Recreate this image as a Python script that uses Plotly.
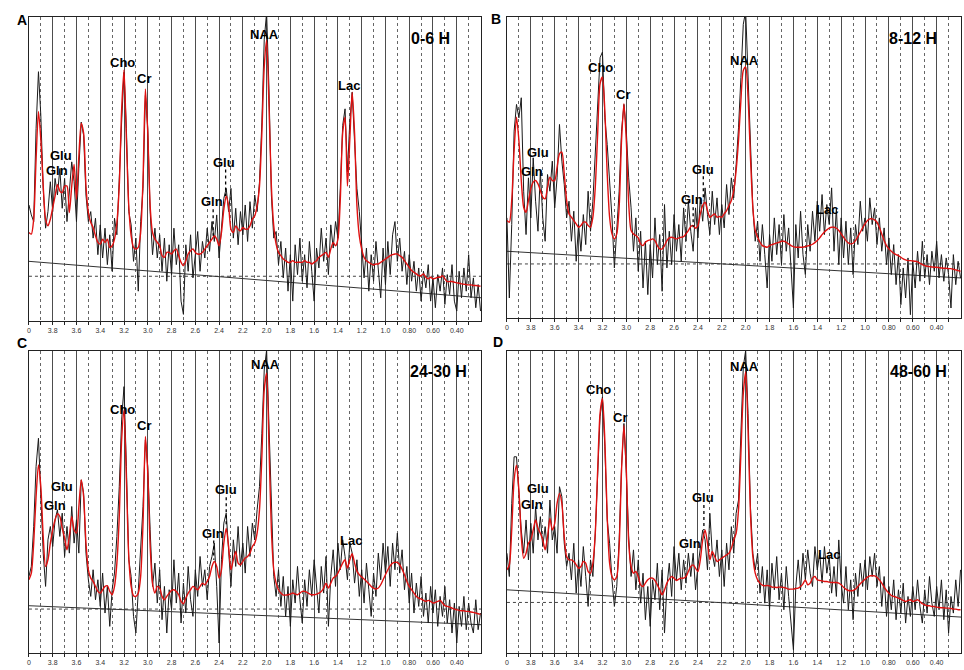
import numpy as np
import plotly.graph_objects as go

# chemical shift grid (ppm), 4.00 -> 0.20 in 0.02 steps
ppm = np.round(np.arange(4.0, 0.19, -0.02), 2)

# ---- fitted (red) and measured (black) spectra, arbitrary units ----
red_a = [267, 262, 307, 487, 632, 547, 407, 307, 287, 307,
         342, 377, 412, 392, 387, 407, 407, 327, 407, 472,
         367, 497, 597, 567, 407, 327, 297, 282, 257, 237,
         232, 247, 237, 247, 222, 227, 247, 297, 407, 637,
         757, 547, 347, 257, 222, 217, 222, 267, 427, 700,
         567, 347, 267, 247, 237, 227, 197, 192, 207, 207,
         202, 212, 217, 197, 177, 167, 182, 202, 212, 217,
         207, 202, 202, 207, 217, 227, 237, 247, 257, 247,
         227, 267, 337, 377, 347, 277, 267, 287, 277, 272,
         282, 277, 277, 287, 307, 317, 347, 407, 567, 767,
         847, 647, 407, 287, 232, 207, 197, 187, 182, 177,
         177, 182, 177, 177, 177, 177, 182, 177, 177, 172,
         177, 182, 192, 197, 202, 207, 192, 217, 237, 227,
         247, 367, 567, 615, 407, 547, 690, 567, 347, 257,
         217, 192, 182, 177, 172, 169, 172, 172, 177, 182,
         187, 192, 197, 200, 202, 202, 197, 192, 182, 172,
         162, 152, 147, 142, 137, 137, 142, 132, 127, 132,
         127, 129, 132, 132, 137, 127, 119, 119, 119, 117,
         115, 114, 112, 111, 110, 109, 109, 107, 107, 106,
         105]
black_a = [350, 320, 300, 580, 752, 620, 400, 280, 330, 420,
           330, 430, 380, 460, 340, 430, 300, 380, 480, 420,
           300, 460, 600, 560, 380, 300, 330, 250, 310, 200,
           290, 190, 280, 170, 260, 150, 310, 260, 450, 600,
           750, 580, 330, 290, 180, 250, 90, 300, 400, 680,
           580, 330, 200, 280, 190, 260, 150, 250, 120, 230,
           140, 280, 170, 230, 60, 20, 230, 150, 260, 130,
           200, 270, 150, 240, 190, 280, 210, 300, 240, 320,
           190, 290, 370, 400, 330, 400, 250, 340, 230, 330,
           260, 350, 240, 360, 280, 380, 330, 420, 600, 850,
           930, 700, 380, 250, 270, 170, 240, 130, 220, 90,
           200, 60, 230, 140, 250, 120, 200, 100, 240, 150,
           60, 220, 160, 280, 180, 250, 140, 290, 220, 300,
           250, 400, 590, 640, 450, 600, 690, 540, 400, 330,
           230, 130, 220, 90, 200, 120, 240, 150, 70, 220,
           110, 240, 140, 260, 300, 180, 250, 150, 210, 110,
           200, 120, 180, 90, 160, 60, 150, 100, 170, 60,
           130, 40, 140, 90, 160, 50, 140, 80, 170, 60,
           30, 150, 70, 160, 90, 200, 70, 130, 40, 110,
           30]

red_b = [292, 287, 352, 502, 602, 532, 412, 332, 317, 352,
         387, 407, 412, 402, 382, 362, 357, 392, 422, 412,
         412, 452, 492, 497, 432, 352, 312, 302, 292, 282,
         272, 277, 287, 287, 277, 272, 302, 392, 552, 702,
         722, 622, 432, 302, 252, 237, 252, 332, 532, 642,
         532, 342, 262, 252, 247, 240, 222, 217, 227, 232,
         234, 237, 232, 217, 207, 207, 217, 232, 240, 242,
         240, 237, 240, 242, 244, 252, 262, 274, 277, 269,
         277, 312, 337, 347, 322, 302, 307, 312, 302, 304,
         302, 312, 322, 337, 352, 382, 442, 532, 652, 742,
         752, 662, 482, 332, 262, 242, 227, 217, 214, 212,
         217, 220, 222, 225, 227, 230, 230, 227, 222, 217,
         214, 212, 212, 212, 212, 214, 216, 218, 221, 226,
         232, 240, 250, 258, 264, 269, 272, 272, 269, 262,
         252, 242, 232, 225, 222, 224, 232, 244, 257, 270,
         282, 292, 297, 297, 294, 287, 272, 252, 232, 217,
         207, 200, 194, 190, 187, 182, 177, 174, 172, 172,
         171, 170, 168, 164, 160, 157, 155, 154, 153, 152,
         152, 151, 150, 149, 149, 148, 148, 146, 144, 142,
         140]
black_b = [300, 60, 280, 560, 640, 600, 660, 380, 250, 420,
           300, 480, 350, 260, 440, 300, 230, 430, 380, 470,
           330, 420, 580, 470, 400, 300, 350, 230, 320, 170,
           280, 200, 310, 220, 380, 260, 350, 480, 620, 780,
           797, 600, 520, 420, 300, 150, 260, 380, 560, 640,
           560, 420, 330, 200, 300, 140, 260, 90, 230, 70,
           220, 120, 300, 160, 250, 80, 340, 150, 260, 160,
           310, 200, 280, 170, 330, 230, 350, 260, 200, 330,
           240, 360, 290, 390, 310, 250, 380, 280, 360, 250,
           340, 270, 400, 310, 420, 360, 460, 570, 720, 880,
           920, 720, 500, 330, 230, 290, 170, 280, 190, 90,
           250, 170, 300, 190, 280, 160, 310, 200, 270, 130,
           30, 280, 180, 320, 190, 130, 280, 200, 320, 230,
           350, 260, 370, 250, 340, 280, 390, 200, 330, 160,
           300, 180, 290, 160, 270, 130, 280, 220, 350, 260,
           300, 230, 360, 280, 330, 220, 300, 200, 270, 160,
           240, 130, 220, 100, 190, 40, 150, 60, 180, 10,
           170, 90, 200, 110, 230, 120, 190, 100, 200, 140,
           230, 120, 190, 110, 180, 130, 30, 190, 100, 170,
           120]

red_c = [220, 240, 330, 470, 565, 500, 350, 260, 280, 330,
         370, 400, 418, 410, 375, 345, 310, 350, 410, 370,
         360, 440, 520, 470, 330, 250, 225, 215, 200, 185,
         180, 190, 200, 202, 185, 175, 200, 270, 410, 640,
         730, 520, 290, 200, 172, 170, 180, 230, 390, 650,
         540, 320, 210, 180, 200, 195, 170, 160, 170, 180,
         188, 190, 185, 175, 155, 148, 165, 180, 190, 200,
         195, 190, 200, 210, 205, 215, 230, 260, 275, 260,
         225, 250, 330, 375, 320, 250, 280, 305, 270, 265,
         275, 285, 290, 300, 320, 330, 360, 430, 590, 790,
         840, 620, 370, 250, 210, 190, 180, 174, 174, 175,
         177, 180, 177, 175, 180, 185, 185, 182, 178, 175,
         175, 177, 180, 185, 195, 210, 195, 210, 225, 230,
         240, 255, 270, 280, 255, 280, 298, 270, 245, 235,
         228, 222, 215, 208, 200, 195, 192, 195, 205, 220,
         235, 250, 262, 270, 272, 272, 265, 252, 235, 215,
         200, 190, 180, 170, 165, 162, 158, 155, 158, 155,
         150, 152, 155, 158, 150, 142, 140, 138, 135, 132,
         130, 128, 127, 127, 125, 125, 123, 122, 120, 118,
         116]
black_c = [230, 260, 380, 560, 645, 480, 300, 200, 340, 380,
           320, 400, 430, 350, 420, 290, 380, 300, 440, 330,
           400, 300, 520, 480, 300, 220, 170, 250, 160, 220,
           140, 240, 120, 200, 80, 190, 240, 350, 500, 700,
           800, 560, 280, 230, 110, 60, 200, 300, 440, 640,
           560, 370, 200, 270, 150, 250, 100, 200, 60, 190,
           130, 280, 150, 240, 90, 210, 120, 260, 160, 110,
           250, 170, 290, 200, 250, 160, 260, 290, 330, 200,
           30, 280, 390, 420, 300, 200, 340, 260, 380, 260,
           330, 240, 380, 290, 390, 340, 430, 500, 660, 850,
           910, 680, 420, 230, 170, 250, 140, 230, 110, 200,
           80, 220, 150, 260, 160, 90, 220, 140, 250, 170,
           280, 190, 120, 260, 180, 290, 80, 230, 310, 200,
           330, 250, 340, 290, 220, 330, 300, 210, 280, 170,
           250, 150, 270, 190, 110, 240, 170, 300, 220, 330,
           240, 320, 200, 330, 250, 360, 240, 310, 190, 260,
           150, 240, 120, 210, 140, 230, 110, 180, 90, 200,
           120, 190, 80, 170, 110, 200, 90, 160, 60, 150,
           30, 140, 80, 170, 70, 150, 90, 60, 160, 70,
           120]

red_d = [250, 265, 370, 520, 565, 490, 350, 285, 300, 330,
         340, 370, 400, 375, 360, 340, 310, 350, 405, 370,
         390, 450, 480, 450, 350, 290, 280, 280, 275, 265,
         255, 260, 275, 270, 245, 240, 270, 360, 550, 720,
         765, 640, 410, 270, 230, 220, 230, 320, 550, 685,
         550, 330, 260, 240, 245, 230, 205, 200, 210, 220,
         225, 225, 218, 205, 190, 175, 190, 210, 222, 230,
         225, 218, 222, 225, 225, 230, 245, 260, 265, 255,
         245, 280, 340, 370, 330, 280, 305, 290, 275, 280,
         285, 290, 295, 300, 315, 340, 360, 430, 600, 780,
         845, 670, 420, 290, 240, 220, 210, 204, 202, 203,
         202, 198, 198, 197, 198, 198, 197, 195, 192, 192,
         192, 194, 195, 200, 208, 220, 205, 210, 225, 230,
         220, 218, 217, 215, 215, 213, 212, 212, 212, 210,
         205, 198, 192, 188, 187, 188, 192, 200, 208, 215,
         222, 228, 232, 232, 232, 228, 220, 210, 198, 188,
         180, 173, 170, 168, 165, 162, 158, 155, 158, 160,
         155, 157, 160, 155, 148, 145, 142, 142, 140, 140,
         138, 137, 136, 136, 135, 135, 134, 132, 132, 130,
         130]
black_d = [300, 230, 450, 590, 590, 470, 370, 300, 400, 280,
           390, 300, 440, 340, 410, 320, 380, 300, 460, 340,
           380, 300, 500, 470, 330, 260, 300, 220, 330, 180,
           280, 200, 320, 230, 140, 280, 230, 360, 530, 710,
           770, 620, 400, 330, 220, 140, 200, 340, 560, 690,
           540, 350, 230, 310, 190, 280, 150, 240, 100, 200,
           80, 220, 160, 270, 130, 250, 60, 200, 270, 170,
           320, 220, 300, 190, 280, 210, 300, 230, 300, 190,
           260, 320, 370, 340, 250, 420, 300, 260, 340, 230,
           310, 200, 330, 250, 380, 300, 420, 460, 650, 860,
           910, 720, 440, 300, 250, 300, 180, 260, 150, 250,
           130, 270, 190, 290, 160, 240, 130, 260, 170, 100,
           10, 200, 280, 190, 300, 220, 310, 240, 200, 320,
           250, 300, 210, 320, 240, 290, 180, 260, 170, 340,
           210, 150, 260, 130, 220, 100, 240, 170, 270, 200,
           280, 190, 290, 230, 300, 200, 260, 140, 230, 110,
           200, 130, 220, 100, 190, 120, 210, 90, 170, 110,
           200, 130, 220, 140, 90, 190, 120, 230, 150, 110,
           200, 130, 220, 100, 190, 60, 170, 120, 220, 140,
           250]

# baseline ends (at 4.0 and right edge) and dotted reference level
baseline_a = [180, 70]
baseline_b = [200, 120]
baseline_c = [142, 85]
baseline_d = [190, 108]
level_a, level_b, level_c, level_d = 135, 162, 132, 152
ymax_a, ymax_b, ymax_c, ymax_d = 917, 902, 907, 908

# metabolite labels: (text, ppm, height)
labels_a = [("NAA", 2.02, 864), ("Cho", 3.21, 780), ("Cr", 3.03, 730), ("Lac", 1.31, 709),
            ("Glu", 3.73, 500), ("Gln", 3.76, 455), ("Glu", 2.36, 477), ("Gln", 2.46, 359)]
labels_b = [("NAA", 2.01, 772), ("Cho", 3.22, 752), ("Cr", 3.03, 669), ("Lac", 1.32, 325),
            ("Glu", 3.74, 496), ("Gln", 3.79, 440), ("Glu", 2.36, 445), ("Gln", 2.45, 354)]
labels_c = [("NAA", 2.01, 865), ("Cho", 3.21, 732), ("Cr", 3.03, 684), ("Lac", 1.29, 337),
            ("Glu", 3.72, 500), ("Gln", 3.78, 443), ("Glu", 2.34, 490), ("Gln", 2.45, 360)]
labels_d = [("NAA", 2.01, 860), ("Cho", 3.23, 793), ("Cr", 3.05, 708), ("Lac", 1.30, 297),
            ("Glu", 3.74, 495), ("Gln", 3.79, 448), ("Glu", 2.36, 468), ("Gln", 2.47, 328)]
# dotted leader lines: (ppm, top, bottom)
leaders_a = [(2.345, 457, 377), (2.45, 337, 257)]
leaders_b = [(2.355, 425, 352), (2.44, 332, 272)]
leaders_c = [(2.34, 468, 380), (2.445, 338, 280)]
leaders_d = [(2.35, 445, 370)]

times = ["0-6 H", "8-12 H", "24-30 H", "48-60 H"]
time_pos = [(0.62, 852), (0.60, 839), (0.55, 845), (0.55, 845)]

tick_vals = [4.0, 3.8, 3.6, 3.4, 3.2, 3.0, 2.8, 2.6, 2.4, 2.2, 2.0,
             1.8, 1.6, 1.4, 1.2, 1.0, 0.8, 0.6, 0.4]
tick_text = ["0", "3.8", "3.6", "3.4", "3.2", "3.0", "2.8", "2.6", "2.4", "2.2", "2.0",
             "1.8", "1.6", "1.4", "1.2", "1.0", "0.80", "0.60", "0.40"]
minor_vals = [3.9, 3.7, 3.5, 3.3, 3.1, 2.9, 2.7, 2.5, 2.3, 2.1, 1.9,
              1.7, 1.5, 1.3, 1.1, 0.9, 0.7, 0.5, 0.3]

W, H = 964, 670
# panel boxes in pixels: left, right, top, bottom
boxes = [(27, 480, 17, 321), (506, 961, 17, 318), (27, 480, 351, 653), (506, 961, 351, 653)]
letters = [("A", 13, 10), ("B", 495, 9), ("C", 13, 343), ("D", 497, 342)]

panels = [
    (red_a, black_a, baseline_a, level_a, ymax_a, labels_a, leaders_a),
    (red_b, black_b, baseline_b, level_b, ymax_b, labels_b, leaders_b),
    (red_c, black_c, baseline_c, level_c, ymax_c, labels_c, leaders_c),
    (red_d, black_d, baseline_d, level_d, ymax_d, labels_d, leaders_d),
]

FONT = "Arial, Liberation Sans, sans-serif"
x_right = 0.196

fig = go.Figure()
layout = dict(width=W, height=H, margin=dict(l=0, r=0, t=0, b=0),
              paper_bgcolor="white", plot_bgcolor="white", showlegend=False,
              font=dict(family=FONT, color="black"))
annotations = []

for i, (red, black, base, level, ymax, labels, leaders) in enumerate(panels):
    n = "" if i == 0 else str(i + 1)
    xa, ya = "x" + n, "y" + n
    left, right, top, bottom = boxes[i]

    layout["xaxis" + n] = dict(
        domain=[left / W, right / W], anchor=ya, range=[4.0, x_right],
        tickmode="array", tickvals=tick_vals, ticktext=tick_text,
        showgrid=True, gridcolor="#4d4d4d", gridwidth=1,
        showline=True, linecolor="#222", linewidth=1, mirror=True,
        ticks="outside", ticklen=3, tickcolor="#222",
        tickfont=dict(size=7, color="#333", family=FONT),
        minor=dict(tickmode="array", tickvals=minor_vals, showgrid=True,
                   gridcolor="#666", griddash="dot", gridwidth=1,
                   ticks="outside", ticklen=3, tickcolor="#222"),
        zeroline=False, fixedrange=True)
    layout["yaxis" + n] = dict(
        domain=[1 - bottom / H, 1 - top / H], anchor=xa, range=[0, ymax],
        showgrid=False, showticklabels=False, zeroline=False,
        showline=True, linecolor="#222", linewidth=1, mirror=True, ticks="",
        fixedrange=True)

    fig.add_trace(go.Scatter(x=[4.0, x_right], y=[level, level], mode="lines",
                             line=dict(color="#444", width=1, dash="dot"),
                             xaxis=xa, yaxis=ya, hoverinfo="skip"))
    fig.add_trace(go.Scatter(x=[4.0, x_right], y=base, mode="lines",
                             line=dict(color="#333", width=1),
                             xaxis=xa, yaxis=ya, hoverinfo="skip"))
    fig.add_trace(go.Scatter(x=ppm, y=black, mode="lines",
                             line=dict(color="#1a1a1a", width=1),
                             xaxis=xa, yaxis=ya))
    fig.add_trace(go.Scatter(x=ppm, y=red, mode="lines",
                             line=dict(color="#e01010", width=1.4, shape="spline", smoothing=0.7),
                             xaxis=xa, yaxis=ya))
    for (lx, y0, y1) in leaders:
        fig.add_trace(go.Scatter(x=[lx, lx], y=[y0, y1], mode="lines",
                                 line=dict(color="black", width=1.3, dash="dot"),
                                 xaxis=xa, yaxis=ya, hoverinfo="skip"))

    for (txt, lx, ly) in labels:
        annotations.append(dict(x=lx, y=ly, xref=xa, yref=ya, text="<b>%s</b>" % txt,
                                showarrow=False, font=dict(size=13, family=FONT, color="black")))
    tx, ty = time_pos[i]
    annotations.append(dict(x=tx, y=ty, xref=xa, yref=ya, text="<b>%s</b>" % times[i],
                            showarrow=False, font=dict(size=16, family=FONT, color="black")))
    lt, px_, py_ = letters[i]
    annotations.append(dict(x=px_ / W, y=1 - py_ / H, xref="paper", yref="paper",
                            text="<b>%s</b>" % lt, showarrow=False,
                            font=dict(size=14, family=FONT, color="black")))

layout["annotations"] = annotations
fig.update_layout(**layout)

# page body has a default margin; drop it so the figure sits at the window origin
fig.write_html("out.html", config={"displayModeBar": False},
               post_script="document.body.style.margin='0';")
